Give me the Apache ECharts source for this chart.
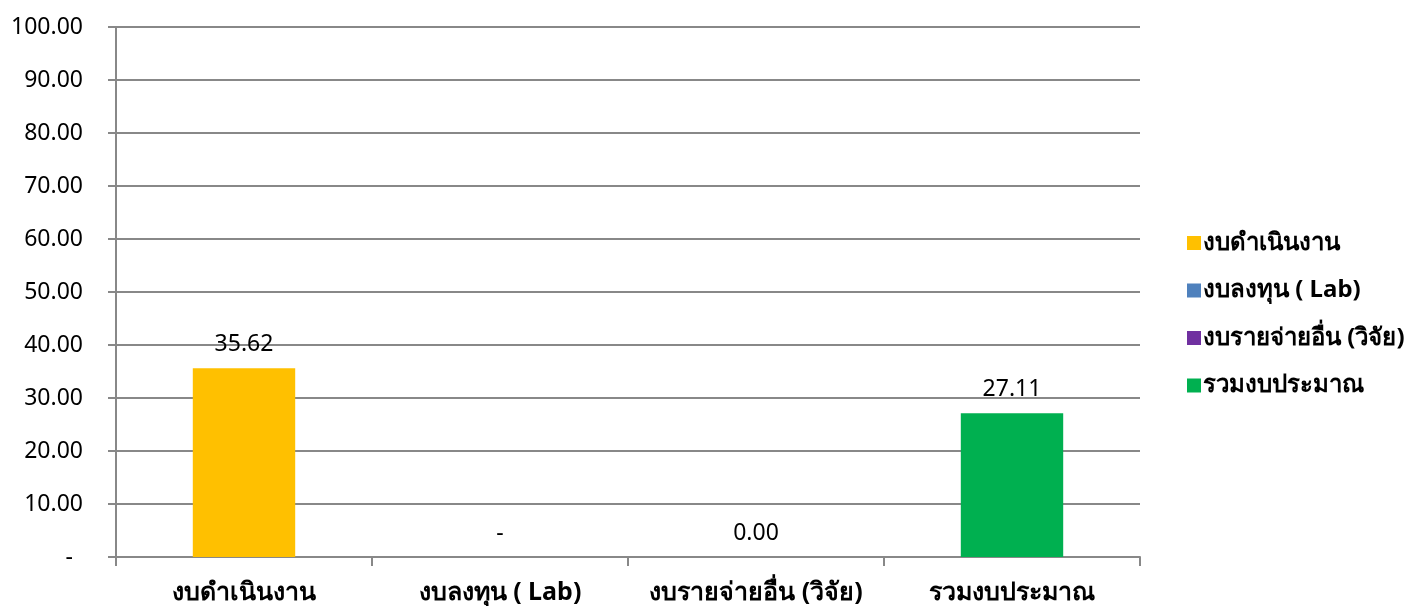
<!DOCTYPE html>
<html><head><meta charset="utf-8">
<script src="https://cdn.jsdelivr.net/npm/echarts@6/dist/echarts.min.js"></script>
<style>html,body{margin:0;padding:0;background:#fff}#c{width:1422px;height:606px}</style>
</head><body><div id="c"></div>
<script>
const categories = ['งบดำเนินงาน', 'งบลงทุน ( Lab)', 'งบรายจ่ายอื่น (วิจัย)', 'รวมงบประมาณ'];
const seriesNames = ['งบดำเนินงาน', 'งบลงทุน ( Lab)', 'งบรายจ่ายอื่น (วิจัย)', 'รวมงบประมาณ'];
const seriesColors = ['#FFC000', '#4F81BD', '#7030A0', '#00B050'];
const values = [35.62, 0, 0.001, 27.11];
const yTicks = [0, 10, 20, 30, 40, 50, 60, 70, 80, 90, 100];

const FONT = "'Noto Sans', 'Open Sans', sans-serif";
const chart = echarts.init(document.getElementById('c'));
const series = seriesNames.map((name, i) => ({
  name: name,
  type: 'bar',
  stack: 'all',
  barWidth: '40%',
  itemStyle: { color: seriesColors[i] },
  data: categories.map((c, j) => j === i ? values[i] : null),
  label: {
    show: true, position: 'top', distance: 12,
    fontFamily: FONT, fontSize: 23, color: '#000',
    formatter: p => p.value === 0 ? '-' : p.value.toFixed(2)
  }
}));
chart.setOption({
  animation: false,
  textStyle: { fontFamily: FONT },
  grid: { left: 116, right: 282, top: 27, bottom: 49, containLabel: false },
  legend: {
    orient: 'vertical', left: 1182, top: 226,
    itemWidth: 14, itemHeight: 14, itemGap: 23.5,
    icon: 'rect',
    textStyle: { fontFamily: FONT, fontSize: 24, lineHeight: 24, fontWeight: 'bold', color: '#000', padding: [0, 0, 0, -3] },
    data: seriesNames
  },
  xAxis: {
    type: 'category', data: categories,
    axisLine: { lineStyle: { color: '#888', width: 2 } },
    axisTick: { show: true, length: 9, lineStyle: { color: '#888', width: 2 } },
    axisLabel: { interval: 0, hideOverlap: false, fontFamily: FONT, fontSize: 25, fontWeight: 'bold', color: '#000', margin: 23 }
  },
  yAxis: {
    type: 'value', min: yTicks[0], max: yTicks[yTicks.length - 1], interval: 10,
    axisLine: { show: true, lineStyle: { color: '#888', width: 2 } },
    axisTick: { show: true, length: 8, lineStyle: { color: '#888', width: 2 } },
    splitLine: { lineStyle: { color: '#888', width: 2 } },
    axisLabel: {
      fontFamily: FONT, fontSize: 23, color: '#000', margin: 33,
      formatter: v => v === 0 ? '{z|-}' : v.toFixed(2),
      rich: { z: { fontFamily: FONT, fontSize: 23, color: '#000', padding: [0, 10, 0, 0] } }
    }
  },
  series: series
});
</script></body></html>
